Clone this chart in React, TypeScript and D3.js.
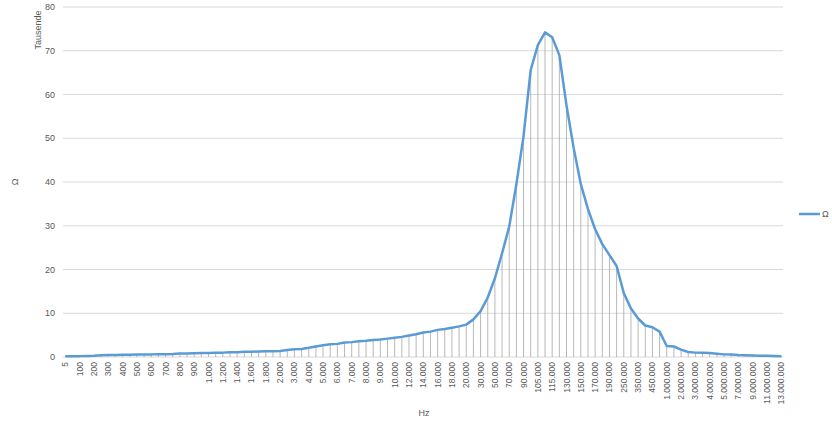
import React from "react";
import * as d3 from "d3";

const categories: string[] = [
  "5", "50", "100", "150", "200", "250", "300", "350", "400", "450",
  "500", "550", "600", "650", "700", "750", "800", "850", "900", "950",
  "1.000", "1.100", "1.200", "1.300", "1.400", "1.500", "1.600", "1.700", "1.800", "1.900",
  "2.000", "2.500", "3.000", "3.500", "4.000", "4.500", "5.000", "5.500", "6.000", "6.500",
  "7.000", "7.500", "8.000", "8.500", "9.000", "9.500", "10.000", "11.000", "12.000", "13.000",
  "14.000", "15.000", "16.000", "17.000", "18.000", "19.000", "20.000", "25.000", "30.000", "40.000",
  "50.000", "60.000", "70.000", "80.000", "90.000", "100.000", "105.000", "110.000", "115.000", "120.000",
  "130.000", "140.000", "150.000", "160.000", "170.000", "180.000", "190.000", "200.000", "250.000", "300.000",
  "350.000", "400.000", "450.000", "500.000", "1.000.000", "1.500.000", "2.000.000", "2.500.000", "3.000.000", "3.500.000",
  "4.000.000", "4.500.000", "5.000.000", "6.000.000", "7.000.000", "8.000.000", "9.000.000", "10.000.000", "11.000.000", "12.000.000",
  "13.000.000",
];

// values in thousands (Tausende)
const omega: number[] = [
  0.2, 0.2, 0.2, 0.25, 0.3, 0.4, 0.45, 0.45, 0.5, 0.5,
  0.55, 0.6, 0.6, 0.65, 0.65, 0.7, 0.8, 0.8, 0.85, 0.9,
  0.9, 1.0, 1.0, 1.1, 1.1, 1.2, 1.2, 1.25, 1.3, 1.3,
  1.35, 1.6, 1.75, 1.85, 2.1, 2.4, 2.7, 2.9, 3.0, 3.3,
  3.4, 3.6, 3.7, 3.9, 4.0, 4.2, 4.4, 4.6, 4.9, 5.2,
  5.6, 5.8, 6.2, 6.4, 6.7, 7.0, 7.4, 8.6, 10.5, 13.6,
  18.0, 23.7, 29.8, 39.5, 50.5, 65.6, 71.3, 74.2, 73.1, 69.0,
  57.5, 47.8, 39.5, 33.8, 29.2, 25.8, 23.3, 20.8, 14.6, 11.1,
  8.8, 7.2, 6.8, 5.8, 2.5, 2.4, 1.7, 1.15, 1.0, 0.95,
  0.9, 0.75, 0.6, 0.55, 0.45, 0.4, 0.35, 0.3, 0.3, 0.25,
  0.15,
];

const yTicks: number[] = [0, 10, 20, 30, 40, 50, 60, 70, 80];
const seriesName = "Ω";
const yUnitLabel = "Tausende";
const xTitle = "Hz";

const W = 832;
const H = 426;
const FONT = "'Liberation Sans', Arial, sans-serif";
const TXT = "#595959";

export default function App() {
  const x = d3.scalePoint<number>().domain(categories.map((_, i) => i)).range([65.3, 781.3]);
  const y = d3.scaleLinear().domain([0, 80]).range([357, 7]);
  const line = d3
    .line<number>()
    .x((_, i) => x(i) as number)
    .y((d) => y(d));

  return (
    <svg
      width={W}
      height={H}
      style={{ position: "absolute", left: 0, top: 0, background: "#fff" }}
      fontFamily={FONT}
    >
      {yTicks.map((t) => (
        <g key={t}>
          <line x1={63} x2={783} y1={y(t)} y2={y(t)} stroke="#d9d9d9" strokeWidth={1} />
          <text x={55} y={y(t) + 3} textAnchor="end" fontSize={9} fill={TXT}>
            {t}
          </text>
        </g>
      ))}
      {omega.map((v, i) => (
        <line
          key={"d" + i}
          x1={x(i)}
          x2={x(i)}
          y1={y(0)}
          y2={y(v)}
          stroke="#a6a6a6"
          strokeWidth={0.8}
        />
      ))}
      <path d={line(omega) || ""} fill="none" stroke="#5b9bd5" strokeWidth={2.5} strokeLinejoin="round" />
      {categories.map((c, i) =>
        i % 2 === 0 ? (
          <text
            key={"c" + i}
            transform={`translate(${(x(i) as number) + 3},362) rotate(-90)`}
            textAnchor="end"
            fontSize={8.5}
            fill={TXT}
          >
            {c}
          </text>
        ) : null
      )}
      <text transform="translate(41,30) rotate(-90)" textAnchor="middle" fontSize={9} fill={TXT}>
        {yUnitLabel}
      </text>
      <text transform="translate(18,182) rotate(-90)" textAnchor="middle" fontSize={9} fill={TXT}>
        {seriesName}
      </text>
      <text x={424} y={416} textAnchor="middle" fontSize={9} fill={TXT}>
        {xTitle}
      </text>
      <line x1={799} x2={820} y1={214} y2={214} stroke="#5b9bd5" strokeWidth={2.5} />
      <text x={822} y={217} fontSize={9} fill={TXT}>
        {seriesName}
      </text>
    </svg>
  );
}
